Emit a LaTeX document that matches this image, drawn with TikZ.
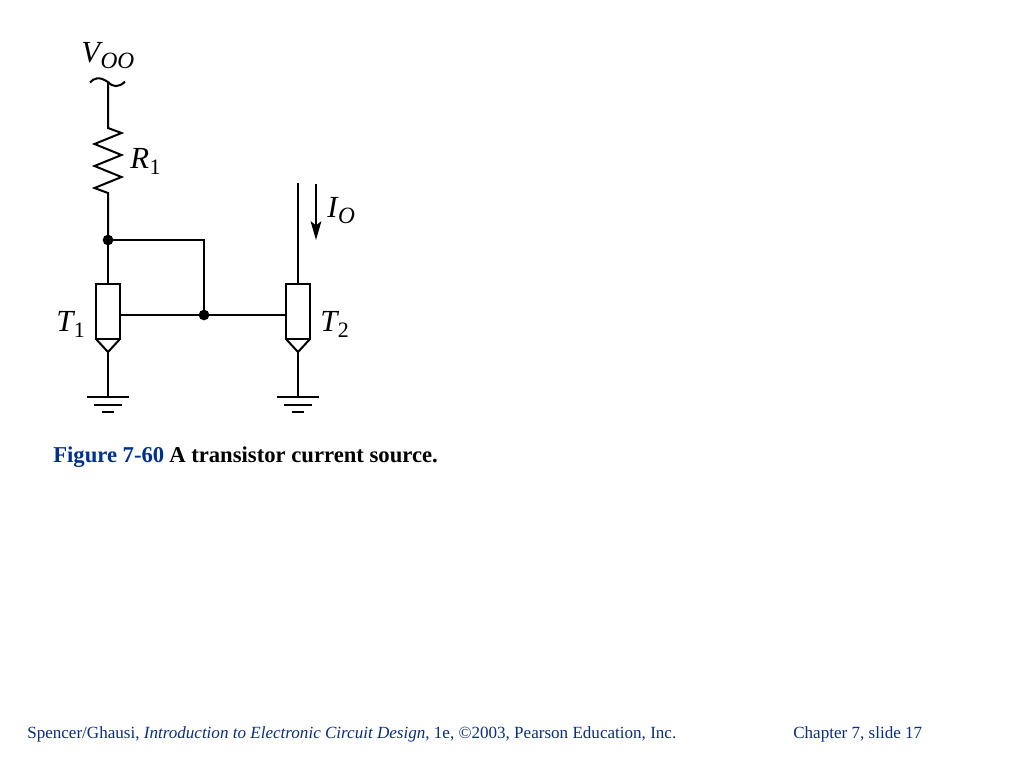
\documentclass[tikz,border=0pt]{standalone}
\usepackage{fontspec}
\setmainfont{Liberation Serif}
\usetikzlibrary{arrows.meta}
\definecolor{figblue}{RGB}{0,48,140}
\definecolor{footblue}{RGB}{10,45,125}
\newcommand{\symb}[3][17.5]{{\fontsize{23}{23}\selectfont\itshape #2}\kern0.4pt\raisebox{-5pt}{\fontsize{#1}{#1}\selectfont #3}}
\tikzset{
  wire/.style={line width=1.5pt,black},
  xtor/.style={draw,line width=1.5pt,minimum width=18pt,minimum height=41.25pt,inner sep=0pt,outer sep=0pt},
  junction/.style={circle,fill=black,minimum size=8pt,inner sep=0pt},
  lbl/.style={inner sep=0pt,anchor=base west},
  captionstyle/.style={inner sep=0pt,anchor=base west,font=\fontsize{17}{17}\selectfont\bfseries},
  foot/.style={inner sep=0pt,anchor=base west,font=\fontsize{12.8}{12.8}\selectfont,text=footblue}
}
\begin{document}
\begin{tikzpicture}[x=0.75pt,y=-0.75pt]
\useasboundingbox (0,0) rectangle (1024,768);
% named points
\coordinate (vdd) at (108,82);
\coordinate (rtop) at (108,128);
\coordinate (rbot) at (108,193);
\node[junction] (j1) at (108,240) {};
\node[junction] (j2) at (204,315) {};
\coordinate (jc) at (204,240);
\node[xtor] (t1) at (108,311.5) {};
\node[xtor] (t2) at (298,311.5) {};
\coordinate (t1tip) at (108,352);
\coordinate (t2tip) at (298,352);
\coordinate (g1) at (108,397);
\coordinate (g2) at (298,397);
\coordinate (d2) at (298,183);
\coordinate (itop) at (316,184);
\coordinate (ibot) at (316,240);
% supply symbol
\draw[wire] (90,82.5) .. controls (94,78) and (99,76) .. (vdd) .. controls (112,87) and (119,88) .. (125,81.5);
% resistor
\draw[wire,line join=miter] (vdd) -- (rtop) -- ++(13.5,5) -- ++(-27,11) -- ++(27,11) -- ++(-27,11) -- ++(27,11) -- ++(-27,11) -- (rbot) -- (j1.center);
% connections
\draw[wire] (j1.center) -- (t1.north);
\draw[wire] (j1.center) -- (jc) -- (j2.center);
\draw[wire] (t1.east |- j2) -- (j2.center) -- (t2.west |- j2);
\draw[wire] (d2) -- (t2.north);
% transistor emitters
\draw[wire,line join=miter] (t1.south west) -- (t1tip) -- (t1.south east);
\draw[wire,line join=miter] (t2.south west) -- (t2tip) -- (t2.south east);
\draw[wire] (t1tip) -- (g1);
\draw[wire] (t2tip) -- (g2);
% grounds
\foreach \g in {g1,g2}{
  \draw[wire] ([xshift=-15.75pt]\g) -- ([xshift=15.75pt]\g);
  \draw[wire] ([xshift=-10.5pt,yshift=-6pt]\g) -- ([xshift=10.5pt,yshift=-6pt]\g);
  \draw[wire] ([xshift=-4.5pt,yshift=-11.25pt]\g) -- ([xshift=4.5pt,yshift=-11.25pt]\g);
}
% current arrow
\draw[line width=1.5pt,-{Stealth[length=14pt,width=8pt,inset=3pt]}] (itop) -- (ibot);
% labels
\node[lbl] (vlab) at (81,62) {\symb{V}{\itshape OO}};
\node[lbl] (rlab) at (130,168) {\symb[16.5]{R}{1}};
\node[lbl] (t1lab) at (56,331) {\symb[16.5]{T}{1}};
\node[lbl] (t2lab) at (320,331) {\symb[16.5]{T}{2}};
\node[lbl] (ilab) at (327,217) {\symb{I}{\itshape O}};
% caption
\node[captionstyle,text=figblue] (figno) at (53,462) {Figure 7-60};
\node[captionstyle] (captxt) at (169,462) {A transistor current source.};
% footer
\node[foot] (footl) at (27,738) {Spencer/Ghausi, \textit{Introduction to Electronic Circuit Design}, 1e, ©2003, Pearson Education, Inc.};
\node[foot] (footr) at (793,738) {Chapter 7, slide 17};
\end{tikzpicture}
\end{document}
